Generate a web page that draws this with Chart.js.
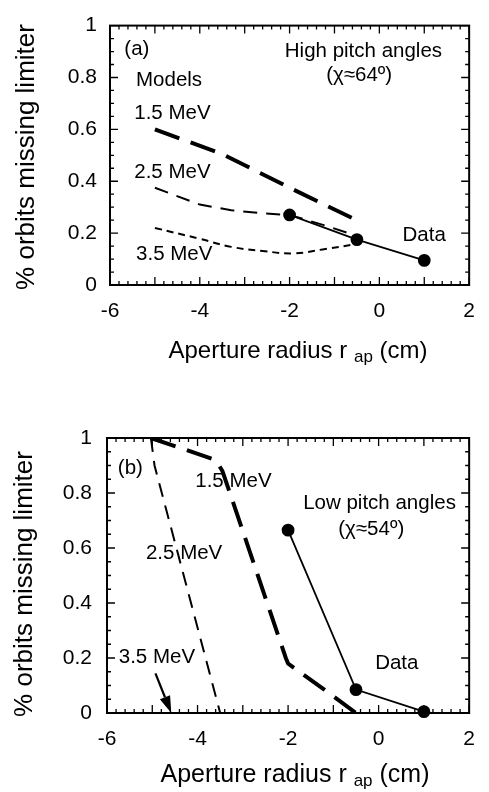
<!DOCTYPE html>
<html>
<head>
<meta charset="utf-8">
<script src="https://cdn.jsdelivr.net/npm/chart.js@4.4.0/dist/chart.umd.min.js"></script>
<style>
  html, body { margin: 0; padding: 0; background: #fff; }
  #wrap { position: relative; width: 489px; height: 792px; }
  canvas { position: absolute; left: 0; }
  #chart-a { top: 0; }
  #chart-b { top: 365px; }
</style>
</head>
<body>
<div id="wrap">
  <canvas id="chart-a" width="489" height="365"></canvas>
  <canvas id="chart-b" width="489" height="427"></canvas>
</div>
<script>
// ===== DATA =====
// (a) high pitch angles
const a15x = [-5, -3.5, -2, -0.45];
const a15y = [0.60, 0.505, 0.375, 0.245];
const a25x = [-5, -4, -3.3, -2.6, -2, -1.2, -0.6];
const a25y = [0.375, 0.31, 0.288, 0.276, 0.27, 0.229, 0.195];
const a35x = [-5, -4, -3.3, -2.6, -1.9, -1.2, -0.5];
const a35y = [0.22, 0.178, 0.147, 0.131, 0.122, 0.139, 0.158];
const aDataX = [-2, -0.5, 1];
const aDataY = [0.27, 0.175, 0.095];

// (b) low pitch angles
const b15x = [-5.03, -3.6, -3.45, -2.05, -2.0, -1.2, -0.5];
const b15y = [1.0, 0.92, 0.88, 0.2, 0.18, 0.085, 0.0];
const b25x = [-5.03, -4.95, -3.5];
const b25y = [1.0, 0.9, 0.0];
const bDataX = [-2, -0.5, 1];
const bDataY = [0.665, 0.085, 0.005];

const xTickValues = [-6, -4, -2, 0, 2];
const yTickValues = [0, 0.2, 0.4, 0.6, 0.8, 1];

const FONT = "'Liberation Sans', Arial, Helvetica, sans-serif";
Chart.defaults.font.family = FONT;
Chart.defaults.color = '#000';

const pairs = (xs, ys) => xs.map((x, i) => ({ x, y: ys[i] }));

function model(xs, ys, width, dash, tension) {
  return {
    data: pairs(xs, ys),
    borderColor: '#000',
    borderWidth: width,
    borderDash: dash,
    borderCapStyle: 'butt',
    pointRadius: 0,
    tension: tension || 0,
    fill: false
  };
}

function measured(xs, ys) {
  return {
    data: pairs(xs, ys),
    borderColor: '#000',
    borderWidth: 1.8,
    pointRadius: 5.5,
    pointBackgroundColor: '#000',
    pointBorderColor: '#000',
    clip: false,
    fill: false
  };
}

// frame, inward ticks on all four sides, titles, in-plot notes
const decor = {
  id: 'decor',
  afterDraw(chart, args, opts) {
    const { ctx, chartArea: a, scales: { x, y } } = chart;
    ctx.save();
    ctx.strokeStyle = '#000';
    ctx.fillStyle = '#000';

    ctx.lineWidth = 1.3;
    ctx.beginPath();
    for (let i = 0; i <= 40; i++) {
      const px = x.getPixelForValue(x.min + i * 0.2);
      const len = i % 5 === 0 ? 8 : 4;
      ctx.moveTo(px, a.bottom); ctx.lineTo(px, a.bottom - len);
      ctx.moveTo(px, a.top); ctx.lineTo(px, a.top + len);
    }
    for (let i = 0; i <= 20; i++) {
      const py = y.getPixelForValue(i * 0.05);
      const len = i % 4 === 0 ? 8 : 4;
      ctx.moveTo(a.left, py); ctx.lineTo(a.left + len, py);
      ctx.moveTo(a.right, py); ctx.lineTo(a.right - len, py);
    }
    ctx.stroke();

    ctx.lineWidth = 2;
    ctx.strokeRect(a.left, a.top, a.right - a.left, a.bottom - a.top);

    // notes placed in data units
    ctx.font = '20.5px ' + FONT;
    ctx.textBaseline = 'middle';
    for (const n of opts.notes) {
      ctx.textAlign = n.align;
      ctx.fillText(n.text, x.getPixelForValue(n.x), y.getPixelForValue(n.y));
    }

    if (opts.arrow) {
      const [x0, y0, x1, y1] = opts.arrow;
      const p0 = { x: x.getPixelForValue(x0), y: y.getPixelForValue(y0) };
      const p1 = { x: x.getPixelForValue(x1), y: y.getPixelForValue(y1) };
      const ang = Math.atan2(p1.y - p0.y, p1.x - p0.x);
      const head = 17, half = 5.5;
      ctx.lineWidth = 2.2;
      ctx.beginPath();
      ctx.moveTo(p0.x, p0.y);
      ctx.lineTo(p1.x - head * Math.cos(ang), p1.y - head * Math.sin(ang));
      ctx.stroke();
      ctx.beginPath();
      ctx.moveTo(p1.x, p1.y);
      ctx.lineTo(p1.x - head * Math.cos(ang) + half * Math.sin(ang), p1.y - head * Math.sin(ang) - half * Math.cos(ang));
      ctx.lineTo(p1.x - head * Math.cos(ang) - half * Math.sin(ang), p1.y - head * Math.sin(ang) + half * Math.cos(ang));
      ctx.closePath();
      ctx.fill();
    }

    // y title
    ctx.save();
    ctx.font = '26px ' + FONT;
    ctx.textAlign = 'center';
    ctx.textBaseline = 'alphabetic';
    ctx.translate(opts.yTitle.x, opts.yTitle.y);
    ctx.rotate(-Math.PI / 2);
    ctx.fillText('% orbits missing limiter', 0, 0);
    ctx.restore();

    // x title with subscript
    const t = opts.xTitle;
    const main = 'Aperture radius r ', sub = 'ap', tail = ' (cm)';
    const big = t.size + 'px ' + FONT, small = '17px ' + FONT;
    ctx.font = big;
    const w1 = ctx.measureText(main).width, w3 = ctx.measureText(tail).width;
    ctx.font = small;
    const w2 = ctx.measureText(sub).width;
    let cx = t.x - (w1 + w2 + w3) / 2;
    ctx.textAlign = 'left';
    ctx.textBaseline = 'alphabetic';
    ctx.font = big; ctx.fillText(main, cx, t.y); cx += w1;
    ctx.font = small; ctx.fillText(sub, cx, t.y + 4); cx += w2;
    ctx.font = big; ctx.fillText(tail, cx, t.y);
    ctx.restore();
  }
};

function axes(yWidth, xHeight, yPad) {
  return {
    x: {
      type: 'linear', min: -6, max: 2,
      afterBuildTicks: s => { s.ticks = xTickValues.map(v => ({ value: v })); },
      afterFit: s => { s.height = xHeight; },
      grid: { display: false, drawTicks: false, tickLength: 0 }, border: { display: false },
      ticks: { font: { size: 21 }, padding: 14, color: '#000', callback: v => String(v) }
    },
    y: {
      type: 'linear', min: 0, max: 1,
      afterBuildTicks: s => { s.ticks = yTickValues.map(v => ({ value: v })); },
      afterFit: s => { s.width = yWidth; },
      grid: { display: false, drawTicks: false, tickLength: 0 }, border: { display: false },
      ticks: { font: { size: 21 }, padding: yPad, color: '#000', callback: v => String(v) }
    }
  };
}

new Chart(document.getElementById('chart-a'), {
  type: 'line',
  data: {
    datasets: [
      model(a15x, a15y, 4, [26, 12]),
      model(a25x, a25y, 2, [14, 9]),
      model(a35x, a35y, 2, [7, 5], 0.4),
      measured(aDataX, aDataY)
    ]
  },
  options: {
    responsive: false,
    animation: false,
    layout: { padding: { top: 13, right: 7, left: 0, bottom: 0 } },
    scales: axes(110, 80, 13),
    plugins: {
      legend: { display: false },
      tooltip: { enabled: false },
      decor: {
        notes: [
          { text: '(a)', x: -5.68, y: 0.908, align: 'left' },
          { text: 'High pitch angles', x: -0.355, y: 0.90, align: 'center' },
          { text: '(\u03C7\u224864\u00BA)', x: -0.45, y: 0.81, align: 'center' },
          { text: 'Models', x: -5.42, y: 0.79, align: 'left' },
          { text: '1.5 MeV', x: -5.46, y: 0.662, align: 'left' },
          { text: '2.5 MeV', x: -5.46, y: 0.434, align: 'left' },
          { text: '3.5 MeV', x: -5.42, y: 0.118, align: 'left' },
          { text: 'Data', x: 0.516, y: 0.191, align: 'left' }
        ],
        yTitle: { x: 34, y: 157 },
        xTitle: { x: 298, y: 358, size: 24 }
      }
    }
  },
  plugins: [decor]
});

new Chart(document.getElementById('chart-b'), {
  type: 'line',
  data: {
    datasets: [
      model(b15x, b15y, 4, [26, 12]),
      model(b25x, b25y, 2, [14, 9]),
      measured(bDataX, bDataY)
    ]
  },
  options: {
    responsive: false,
    animation: false,
    layout: { padding: { top: 73, right: 9, left: 0, bottom: 0 } },
    scales: axes(107, 79, 15),
    plugins: {
      legend: { display: false },
      tooltip: { enabled: false },
      decor: {
        notes: [
          { text: '(b)', x: -5.76, y: 0.89, align: 'left' },
          { text: '1.5 MeV', x: -4.05, y: 0.841, align: 'left' },
          { text: 'Low pitch angles', x: 0.02, y: 0.763, align: 'center' },
          { text: '(\u03C7\u224854\u00BA)', x: -0.163, y: 0.668, align: 'center' },
          { text: '2.5 MeV', x: -5.14, y: 0.581, align: 'left' },
          { text: '3.5 MeV', x: -5.74, y: 0.2025, align: 'left' },
          { text: 'Data', x: -0.077, y: 0.18, align: 'left' }
        ],
        arrow: [-4.93, 0.144, -4.58, 0.0],
        yTitle: { x: 32, y: 219 },
        xTitle: { x: 295, y: 417, size: 25 }
      }
    }
  },
  plugins: [decor]
});
</script>
</body>
</html>
